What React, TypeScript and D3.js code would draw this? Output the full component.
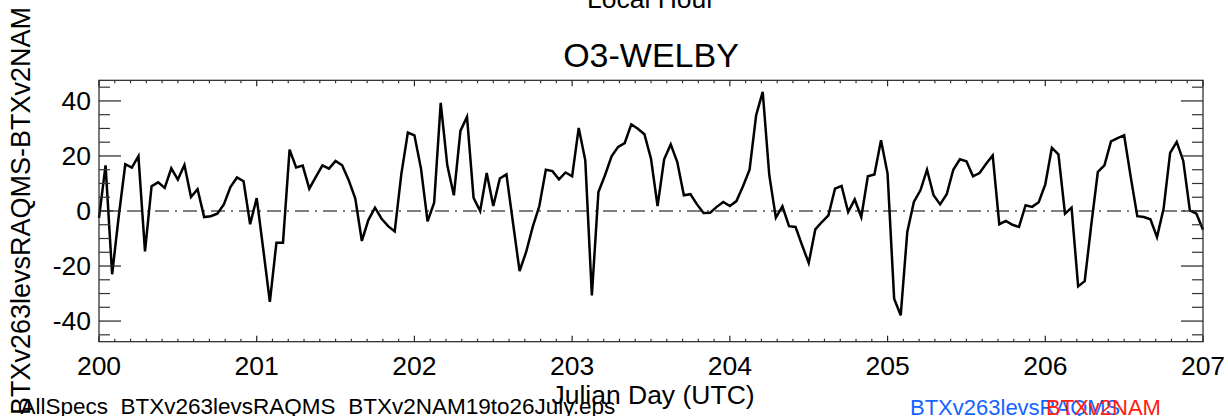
import React from "react";
import * as d3 from "d3";

const title = "O3-WELBY";
const topTitle = "Local Hour";
const xTitle = "Julian Day (UTC)";
const yTitle = "BTXv263levsRAQMS-BTXv2NAM";
const fileLabel = "AllSpecs_BTXv263levsRAQMS_BTXv2NAM19to26July.eps";
const legendA = "BTXv263levsRAQMS";
const legendB = "BTXv2NAM";

const startDay = 200;
const endDay = 207;
const xMajorTicks = [200, 201, 202, 203, 204, 205, 206, 207];
const yMajorTicks = [-40, -20, 0, 20, 40];
const yMinorTicks = [-45, -35, -30, -25, -15, -10, -5, 5, 10, 15, 25, 30, 35, 45];

// hourly differences, hour 0 = day 200.0
const values = [
  -2.5, 16.6, -23, -2, 17, 15.8, 19.9, -14.7, 9, 10.4, 8.4, 15.5, 11.4, 16.7, 5.1, 7.9, -2.2, -1.9, -1, 2.4, 8.7, 12.2, 10.8, -4.8, 4.7, -14, -33, -11.5, -11.5,
  22.3, 15.8, 16.5, 8.1, 12.4, 16.6, 15.4, 18.2, 16.6, 11.2, 4.5, -10.9, -3.2, 1.2, -2.8, -5.5, -7.4, 13.3, 28.5, 27.5, 15.4, -3.8, 3, 39.3, 16.6, 5.7, 29.1, 34.2,
  4.8, 0, 13.8, 1.8, 11.8, 13.3, -4.3, -21.8, -14.9, -5.8, 1.7, 15, 14.5, 11.5, 14, 12.6, 30.2, 18.4, -30.7, 6.9, 13, 19.9, 23.3, 24.7, 31.5, 29.9, 27.9, 19,
  1.8, 18.8, 24.2, 17.8, 5.7, 6.1, 2.4, -0.7, -0.6, 1.5, 3.3, 1.8, 3.6, 9, 15, 34.8, 43.3, 13, -2.4, 1.7, -5.5, -5.8, -12.5, -18.9, -6.7, -4, -1.6, 8.1, 9.1,
  -0.4, 4.2, -2.2, 12.6, 13.3, 25.7, 13.6, -31.9, -37.9, -7.6, 3.3, 7.5, 15, 5.7, 2.4, 6.1, 15, 18.8, 18.1, 12.6, 13.8, 17.2, 20.2, -4.8, -3.6, -5, -5.8,
  2.1, 1.5, 3.2, 9.7, 23, 20.6, -1, 1.2, -27.4, -25.5, -5, 14.2, 16.6, 25.3, 26.5, 27.5, 12.4, -1.9, -2.2, -3, -9.5, 0.8, 21.1, 25.1, 18.2, 0.2, -1, -6.8,
];

export default function App() {
  const W = 1228;
  const H = 416;
  const left = 99;
  const right = 1203;
  const top = 80.3;
  const bottom = 341.7;

  const x = d3.scaleLinear().domain([startDay, endDay]).range([left, right]);
  const y = d3.scaleLinear().domain([-47.5, 47.5]).range([bottom, top]);

  const pts = values.map((v, i) => [startDay + i / 24, v] as [number, number]);
  const line = d3
    .line<[number, number]>()
    .x((d) => x(d[0]))
    .y((d) => y(d[1]));

  const xMinor = d3.range(0, 71).map((i) => startDay + i / 10).filter((d, i) => i % 10 !== 0);
  const font = "'Liberation Sans', Arial, Helvetica, sans-serif";
  const cx = (left + right) / 2;

  return (
    <svg
      width={W}
      height={H}
      style={{ position: "absolute", left: 0, top: 0, background: "#fff" }}
      fontFamily={font}
    >
      <rect x={0} y={0} width={W} height={H} fill="#fff" />
      <text x={cx} y={7.5} textAnchor="middle" fontSize={26.5} fill="#000">
        {topTitle}
      </text>
      <text x={cx} y={66.7} textAnchor="middle" fontSize={34} fill="#000">
        {title}
      </text>

      {/* zero line */}
      <line
        x1={left}
        x2={right}
        y1={y(0)}
        y2={y(0)}
        stroke="#000"
        strokeWidth={1}
        strokeDasharray="14 6 2 6"
      />

      {/* data */}
      <path d={line(pts) ?? ""} fill="none" stroke="#000" strokeWidth={2.5} strokeLinejoin="miter" />

      {/* frame */}
      <rect x={left} y={top} width={right - left} height={bottom - top} fill="none" stroke="#222" strokeWidth={1.2} />

      {/* y ticks */}
      {yMajorTicks.map((t) => (
        <g key={"ym" + t}>
          <line x1={left} x2={left + 22} y1={y(t)} y2={y(t)} stroke="#222" strokeWidth={1.2} />
          <line x1={right} x2={right - 22} y1={y(t)} y2={y(t)} stroke="#222" strokeWidth={1.2} />
          <text x={left - 8} y={y(t) + 9.3} textAnchor="end" fontSize={26.5} fill="#000">
            {t}
          </text>
        </g>
      ))}
      {yMinorTicks.map((t) => (
        <g key={"yn" + t}>
          <line x1={left} x2={left + 11} y1={y(t)} y2={y(t)} stroke="#333" strokeWidth={1.2} />
          <line x1={right} x2={right - 11} y1={y(t)} y2={y(t)} stroke="#333" strokeWidth={1.2} />
        </g>
      ))}

      {/* x ticks */}
      {xMajorTicks.map((t) => (
        <g key={"xm" + t}>
          <line x1={x(t)} x2={x(t)} y1={bottom} y2={bottom - 6} stroke="#222" strokeWidth={1.2} />
          <line x1={x(t)} x2={x(t)} y1={top} y2={top + 6} stroke="#222" strokeWidth={1.2} />
          <text x={x(t)} y={375} textAnchor="middle" fontSize={26.5} fill="#000">
            {t}
          </text>
        </g>
      ))}
      {xMinor.map((t, i) => (
        <g key={"xn" + i}>
          <line x1={x(t)} x2={x(t)} y1={bottom} y2={bottom - 3} stroke="#333" strokeWidth={1.2} />
          <line x1={x(t)} x2={x(t)} y1={top} y2={top + 3} stroke="#333" strokeWidth={1.2} />
        </g>
      ))}

      <text x={cx + 2} y={404} textAnchor="middle" fontSize={26.5} fill="#000">
        {xTitle}
      </text>

      <text
        transform={`translate(30, ${(top + bottom) / 2}) rotate(-90)`}
        textAnchor="middle"
        fontSize={27}
        fill="#000"
      >
        {yTitle}
      </text>

      <text x={20.5} y={414} fontSize={22.5} fill="#000">
        {fileLabel}
      </text>
      <text x={910} y={414.5} fontSize={22} fill="#1464ff">
        {legendA}
      </text>
      <text x={1046} y={414.5} fontSize={22} fill="#ff2010">
        {legendB}
      </text>
    </svg>
  );
}
